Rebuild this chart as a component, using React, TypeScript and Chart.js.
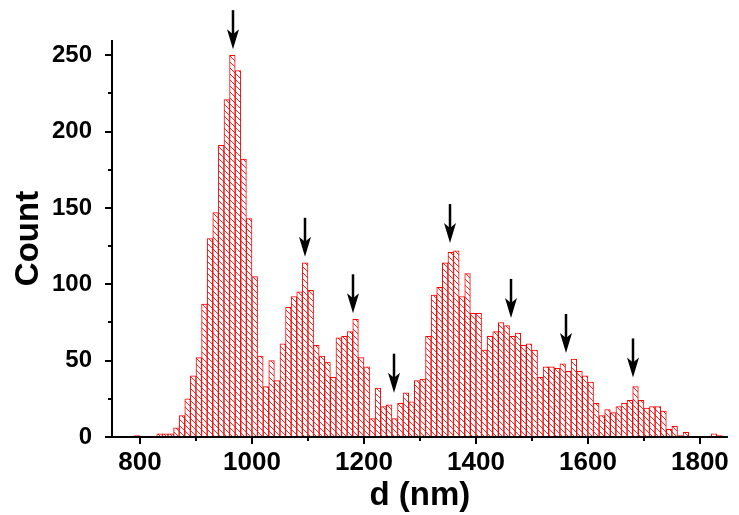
import React, { useEffect, useRef } from 'react';
import { Chart, registerables } from 'chart.js';

Chart.register(...registerables);

// Histogram: bins of 10 nm starting at 790 nm
const binStart = 790;
const binWidth = 10;
const counts = [
  1, 0, 0, 0, 2, 2, 2, 6, 14, 25, 40,
  52, 87, 130, 147, 191, 221, 250, 240, 182, 143,
  105, 53, 33, 50, 37, 61, 85, 92, 95, 114,
  96, 60, 53, 49, 39, 65, 66, 69, 77, 52,
  46, 12, 32, 20, 21, 12, 22, 29, 23, 37,
  38, 66, 93, 98, 114, 121, 122, 92, 107, 81,
  81, 57, 66, 69, 75, 73, 66, 68, 60, 61,
  57, 39, 46, 46, 45, 48, 43, 51, 43, 40,
  36, 22, 14, 18, 16, 20, 22, 24, 33, 24,
  19, 20, 20, 17, 5, 7, 1, 3, 0, 0,
  0, 0, 2, 1,
];

const xTickLabels = [800, 1000, 1200, 1400, 1600, 1800];
const xMinorTicks = [900, 1100, 1300, 1500, 1700];
const yTickLabels = [0, 50, 100, 150, 200, 250];
const yMinorTicks = [25, 75, 125, 175, 225];

// Peak markers (arrows): x position (nm) and tip height (count)
const arrowX = [967, 1095, 1180, 1253, 1354, 1462, 1560, 1681];
const arrowTip = [254, 118, 81, 29, 127, 78, 55, 39];

const X_MIN = 750;
const X_MAX = 1850;
const Y_MIN = 0;
const Y_MAX = 260;

const FONT = "'Liberation Sans', Arial, Helvetica, sans-serif";

function makeHatch(): CanvasPattern | string {
  const c = document.createElement('canvas');
  c.width = 6;
  c.height = 6;
  const g = c.getContext('2d');
  if (!g) return 'rgba(255,0,0,0.3)';
  g.fillStyle = '#ffffff';
  g.fillRect(0, 0, 6, 6);
  g.strokeStyle = 'rgba(255,0,0,0.85)';
  g.lineWidth = 1;
  g.beginPath();
  g.moveTo(-1, -1);
  g.lineTo(7, 7);
  g.moveTo(-1, 5);
  g.lineTo(1, 7);
  g.moveTo(5, -1);
  g.lineTo(7, 1);
  g.stroke();
  return g.createPattern(c, 'repeat') || 'rgba(255,0,0,0.3)';
}

const decorPlugin = {
  id: 'decor',
  afterDatasetsDraw(chart: any) {
    const ctx: CanvasRenderingContext2D = chart.ctx;
    const xs = chart.scales.x;
    const ys = chart.scales.y;
    const area = chart.chartArea;
    ctx.save();
    ctx.strokeStyle = '#000';
    ctx.fillStyle = '#000';
    ctx.lineWidth = 2;
    ctx.lineCap = 'butt';

    // axis lines
    ctx.beginPath();
    ctx.moveTo(area.left, area.top);
    ctx.lineTo(area.left, area.bottom + 1);
    ctx.moveTo(area.left - 1, area.bottom);
    ctx.lineTo(area.right, area.bottom);
    ctx.stroke();

    // y ticks (outward)
    ctx.beginPath();
    for (const v of yTickLabels) {
      const py = Math.round(ys.getPixelForValue(v));
      ctx.moveTo(area.left, py);
      ctx.lineTo(area.left - 7, py);
    }
    for (const v of yMinorTicks) {
      const py = Math.round(ys.getPixelForValue(v));
      ctx.moveTo(area.left, py);
      ctx.lineTo(area.left - 4, py);
    }
    // x ticks (outward)
    for (const v of xTickLabels) {
      const px = Math.round(xs.getPixelForValue(v));
      ctx.moveTo(px, area.bottom);
      ctx.lineTo(px, area.bottom + 7);
    }
    for (const v of xMinorTicks) {
      const px = Math.round(xs.getPixelForValue(v));
      ctx.moveTo(px, area.bottom);
      ctx.lineTo(px, area.bottom + 4);
    }
    ctx.stroke();

    // arrows
    ctx.lineWidth = 2.5;
    for (let i = 0; i < arrowX.length; i++) {
      const px = Math.round(xs.getPixelForValue(arrowX[i]));
      const tip = ys.getPixelForValue(arrowTip[i]);
      ctx.beginPath();
      ctx.moveTo(px, tip - 39);
      ctx.lineTo(px, tip - 14);
      ctx.stroke();
      ctx.beginPath();
      ctx.moveTo(px, tip);
      ctx.lineTo(px - 6, tip - 20);
      ctx.lineTo(px, tip - 15);
      ctx.lineTo(px + 6, tip - 20);
      ctx.closePath();
      ctx.fill();
    }
    ctx.restore();
  },
};

export default function App() {
  const ref = useRef<HTMLCanvasElement | null>(null);

  useEffect(() => {
    document.body.style.margin = '0';
    const canvas = ref.current;
    if (!canvas) return;
    const hatch = makeHatch();
    const data = counts.map((c, i) => ({
      x: binStart + binWidth * (i + 0.5),
      y: c === 0 ? null : c,
    }));

    const chart = new Chart(canvas, {
      type: 'bar',
      data: {
        datasets: [
          {
            data: data as any,
            backgroundColor: hatch as any,
            borderColor: '#ff0000',
            borderWidth: 1,
            borderSkipped: false,
            barPercentage: 1,
            categoryPercentage: 1,
          },
        ],
      },
      options: {
        animation: false,
        responsive: false,
        devicePixelRatio: 1,
        layout: { padding: { top: 40, right: 4, bottom: 0, left: 0 } },
        plugins: {
          legend: { display: false },
          tooltip: { enabled: false },
        },
        scales: {
          x: {
            type: 'linear',
            min: X_MIN,
            max: X_MAX,
            offset: false,
            grid: { display: false, drawTicks: false },
            border: { display: false },
            afterBuildTicks: (scale: any) => {
              scale.ticks = xTickLabels.map((v) => ({ value: v }));
            },
            afterFit: (scale: any) => {
              scale.height = 78;
            },
            ticks: {
              autoSkip: false,
              maxRotation: 0,
              padding: 10,
              color: '#000',
              font: { family: FONT, size: 26, weight: 'bold' },
              callback: (v: any) => String(v),
            },
            title: {
              display: true,
              text: 'd (nm)',
              color: '#000',
              font: { family: FONT, size: 33, weight: 'bold', lineHeight: 1 },
              padding: { top: 0, bottom: 3 },
            },
          },
          y: {
            type: 'linear',
            min: Y_MIN,
            max: Y_MAX,
            grid: { display: false, drawTicks: false },
            border: { display: false },
            afterBuildTicks: (scale: any) => {
              scale.ticks = yTickLabels.map((v) => ({ value: v }));
            },
            afterFit: (scale: any) => {
              scale.width = 112;
            },
            ticks: {
              autoSkip: false,
              padding: 20,
              color: '#000',
              font: { family: FONT, size: 24, weight: 'bold' },
              callback: (v: any) => String(v),
            },
            title: {
              display: true,
              text: 'Count',
              color: '#000',
              font: { family: FONT, size: 33, weight: 'bold', lineHeight: 1 },
              padding: { top: 12, bottom: 0 },
            },
          },
        },
      },
      plugins: [decorPlugin],
    });

    return () => {
      chart.destroy();
    };
  }, []);

  return (
    <div style={{ width: 739, height: 515, background: '#fff' }}>
      <canvas ref={ref} width={739} height={515} style={{ display: 'block' }} />
    </div>
  );
}
